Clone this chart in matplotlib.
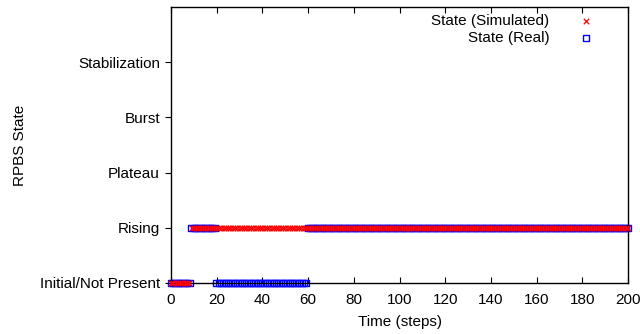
import matplotlib.pyplot as plt
import numpy as np

plt.rcParams.update({"font.family": ["Liberation Sans", "DejaVu Sans"], "font.size": 11})

state_names = ["Initial/Not Present", "Rising", "Plateau", "Burst", "Stabilization"]
steps = np.arange(0, 201)

# state index per step
simulated = np.array([0] * 9 + [1] * 192)
real = np.array([0] * 9 + [1] * 11 + [0] * 40 + [1] * 141)

fig = plt.figure(figsize=(6.4, 3.34), dpi=100)
ax = fig.add_axes([171 / 640, 1 - 283 / 334, (628 - 171) / 640, (283 - 7) / 334])

ax.scatter(steps, simulated, marker="x", s=16, color="#ff0000", linewidths=0.9,
           label="State (Simulated)", zorder=3, clip_on=False)
ax.scatter(steps, real, marker="s", s=22, facecolors="none", edgecolors="#0000ff",
           linewidths=1.0, label="State (Real)", zorder=2, clip_on=False)

ax.set_xlim(0, 200)
ax.set_ylim(0, 5)
ax.set_xticks(np.arange(0, 201, 20))
ax.set_yticks(range(len(state_names)))
ax.set_yticklabels(state_names)
ax.tick_params(axis="x", direction="in", top=True, length=4, width=0.8, pad=7)
ax.tick_params(axis="y", direction="out", right=False, length=4, width=0.8, pad=4)
for s in ax.spines.values():
    s.set_linewidth(1.0)

ax.set_xlabel("Time (steps)", labelpad=6)
ax.set_ylabel("RPBS State", labelpad=9)

ax.legend(loc="upper right", markerfirst=False, frameon=False, handletextpad=1.8,
          borderaxespad=0.0, labelspacing=0.15, fontsize=11, handlelength=1.2,
          bbox_to_anchor=(0.942, 0.995))

fig.savefig("out.png", dpi=100)
